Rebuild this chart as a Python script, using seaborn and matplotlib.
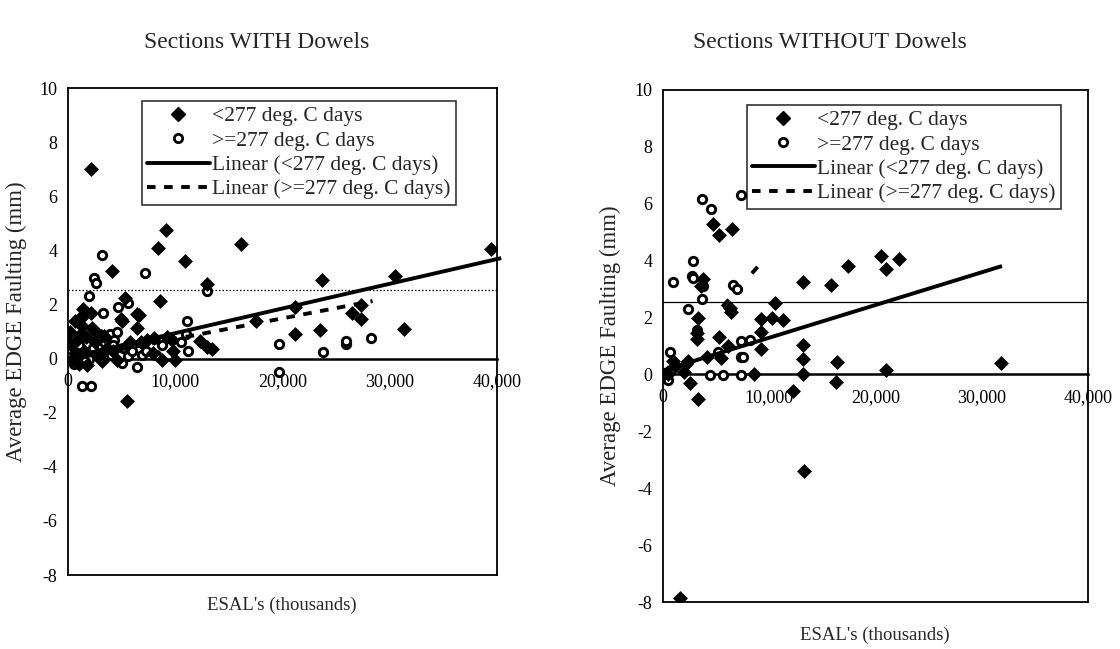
import numpy as np
import pandas as pd
import seaborn as sns
import matplotlib.pyplot as plt
from matplotlib.lines import Line2D
from matplotlib.ticker import FuncFormatter

# ---- data (ESALs, faulting in mm) ----
# Sections WITH dowels, < 277 deg. C days
with_cold_x = [2100, 9100, 8400, 16100, 10900, 4100, 39400, 23700, 30500, 13000,
               8600, 5300, 6600, 21200, 27300, 27300, 26500, 31300, 23500, 21200,
               13400, 13000, 17500, 6400, 5000, 5500, 10000, 8800, 4900, 6400,
               650, 1100, 1600, 2100, 2200, 1700, 300, 700, 1200, 1500,
               2500, 2800, 400, 1000, 1800, 3200, 3600, 4200, 4600, 5800,
               6800, 7400, 8000, 9200, 9700, 7900, 200, 1300, 2600, 12300,
               9800, 3400, 1400, 800]
with_cold_y = [7.0, 4.75, 4.1, 4.25, 3.6, 3.25, 4.05, 2.9, 3.05, 2.75,
               2.15, 2.25, 1.6, 1.9, 2.0, 1.45, 1.7, 1.1, 1.05, 0.9,
               0.35, 0.45, 1.4, 1.15, 1.4, -1.55, -0.05, -0.05, 1.45, 1.65,
               1.4, 1.5, 1.65, 1.7, 1.15, 0.8, 0.5, 0.2, 0.9, 0.3,
               0.6, 0.1, -0.1, -0.2, -0.25, -0.1, 0.4, 0.3, -0.05, 0.6,
               0.6, 0.7, 0.75, 0.8, 0.7, 0.2, 1.0, 1.2, 1.0, 0.65,
               0.3, 0.85, 1.85, 0.7]
# Sections WITH dowels, >= 277 deg. C days
with_warm_x = [3200, 7200, 2400, 2600, 2000, 13000, 3300, 4700, 5600, 11100,
               11200, 19700, 19700, 23800, 25900, 25900, 28300, 1300, 2100, 6900,
               6400, 500, 1000, 1500, 2300, 2900, 3400, 3900, 4300, 4600,
               3100, 4000, 5100, 5600, 6000, 7300, 8200, 2000, 600, 1600,
               5000, 4200, 2700, 8800, 11000, 10500]
with_warm_y = [3.85, 3.15, 3.0, 2.8, 2.3, 2.5, 1.7, 1.9, 2.05, 1.4,
               0.3, 0.55, -0.5, 0.25, 0.55, 0.65, 0.75, -1.0, -1.0, 0.15,
               -0.3, 0.8, 0.5, 0.1, 0.4, 0.9, 0.6, 0.9, 0.7, 1.0,
               0.2, 0.15, 0.4, 0.1, 0.3, 0.3, 0.15, 0.0, -0.2, -0.1,
               -0.15, 0.5, 0.7, 0.5, 0.9, 0.6]

# Sections WITHOUT dowels, < 277 deg. C days
without_cold_x = [4700, 5300, 6500, 17400, 15800, 13200, 20500, 21000, 22200, 3800,
                  3600, 6300, 6400, 10500, 10300, 11300, 9200, 9200, 9200, 3300,
                  3200, 5300, 6100, 4100, 13200, 13200, 13200, 16400, 16300, 21000,
                  31800, 12200, 3300, 2500, 1100, 2200, 8600, 1600, 13300, 2000,
                  500, 3160, 5500, 970, 2370]
without_cold_y = [5.3, 4.9, 5.1, 3.8, 3.15, 3.25, 4.15, 3.7, 4.05, 3.35,
                  3.1, 2.35, 2.2, 2.5, 2.0, 1.9, 1.95, 1.5, 0.9, 2.0,
                  1.45, 1.3, 1.0, 0.6, 1.05, 0.55, 0.0, 0.45, -0.25, 0.15,
                  0.4, -0.6, -0.85, -0.3, 0.3, 0.35, 0.0, -7.85, -3.4, 0.1,
                  0.0, 1.25, 0.57, 0.48, 0.48]
# Sections WITHOUT dowels, >= 277 deg. C days
without_warm_x = [3620, 4560, 7370, 2780, 910, 2690, 3780, 6590, 6970, 3620,
                  2370, 3160, 8150, 7370, 7370, 5180, 660, 350, 4400, 5650,
                  7370, 200, 500, 2840, 7530]
without_warm_y = [6.15, 5.8, 6.3, 4.0, 3.25, 3.45, 3.1, 3.15, 3.0, 2.65,
                  2.3, 1.55, 1.22, 1.18, 0.63, 0.8, 0.8, -0.17, -0.03, -0.03,
                  -0.03, 0.0, -0.2, 3.4, 0.63]

# linear trend lines: (x start, x end, y start, y end)
with_cold_trend = [0, 40400, 0.03, 3.72]
with_warm_trend = [0, 28400, -0.03, 2.13]
without_cold_trend = [0, 31900, 0.14, 3.81]
without_warm_trend = [0, 8900, 0.02, 3.78]

limit_mm = 2.54
titles = ['Sections WITH Dowels', 'Sections WITHOUT Dowels']
labels = ['<277 deg. C days', '>=277 deg. C days',
          'Linear (<277 deg. C days)', 'Linear (>=277 deg. C days)']
x_ticks = [0, 10000, 20000, 30000, 40000]
y_ticks = list(range(-8, 11, 2))

sns.set_theme(style='white')
plt.rcParams['font.family'] = ['Liberation Serif', 'DejaVu Serif']
plt.rcParams['axes.unicode_minus'] = False

fig = plt.figure(figsize=(11.2, 6.49), dpi=100)
ax1 = fig.add_axes([0.0607, 0.114, 0.383, 0.750])
ax2 = fig.add_axes([0.592, 0.0724, 0.3795, 0.789])


def panel(ax, cold_x, cold_y, warm_x, warm_y, cold_tr, warm_tr, limit_style, warm_dash):
    cold = pd.DataFrame({'x': cold_x, 'y': cold_y})
    warm = pd.DataFrame({'x': warm_x, 'y': warm_y})
    sns.scatterplot(data=cold, x='x', y='y', ax=ax, marker='D', s=50,
                    color='black', edgecolor='black', linewidth=0.5, zorder=4)
    sns.scatterplot(data=warm, x='x', y='y', ax=ax, marker='o', s=36,
                    facecolor='white', edgecolor='black', linewidth=2.1, zorder=3)
    ax.plot(cold_tr[:2], cold_tr[2:], color='black', lw=2.8, zorder=5,
            solid_capstyle='butt', clip_on=False)
    ax.plot(warm_tr[:2], warm_tr[2:], color='black', lw=2.8, zorder=5,
            dashes=warm_dash)
    ax.axhline(limit_mm, color='black', lw=0.9, **limit_style, zorder=2)

    ax.set_xlim(0, 40000)
    ax.set_ylim(-8, 10)
    ax.set_xticks(x_ticks)
    ax.set_yticks(y_ticks)
    ax.xaxis.set_major_formatter(FuncFormatter(lambda v, p: f'{int(v):,}'))
    ax.spines['bottom'].set_position(('data', 0))
    for s in ax.spines.values():
        s.set_color('black')
        s.set_linewidth(1.3)
    ax.spines['bottom'].set_linewidth(1.8)
    ax.axhline(-8, color='black', lw=1.3, clip_on=False)
    ax.tick_params(axis='both', direction='inout', length=9, width=1.3,
                   colors='black', labelsize=13, pad=3)
    ax.tick_params(axis='x', pad=6)
    ax.set_xlabel('')
    ax.set_ylabel('Average EDGE Faulting (mm)', fontsize=16.5)
    ax.grid(False)

    handles = [Line2D([], [], marker='D', ls='none', color='black', markersize=7.5),
               Line2D([], [], marker='o', ls='none', markerfacecolor='white',
                      markeredgecolor='black', markeredgewidth=2, markersize=6),
               Line2D([], [], color='black', lw=2.8),
               Line2D([], [], color='black', lw=2.8, dashes=(2.2, 2.2))]
    return handles


h1 = panel(ax1, with_cold_x, with_cold_y, with_warm_x, with_warm_y,
           with_cold_trend, with_warm_trend, {'ls': (0, (1.2, 1.6))}, (2.2, 2.2))
h2 = panel(ax2, without_cold_x, without_cold_y, without_warm_x, without_warm_y,
           without_cold_trend, without_warm_trend, {'ls': '-'}, (2.5, 9))

ax1.yaxis.set_label_coords(-0.095, 0.52)
ax2.yaxis.set_label_coords(-0.1, 0.5)

for ax, h, anchor in [(ax1, h1, (0.172, 0.974)), (ax2, h2, (0.197, 0.971))]:
    leg = ax.legend(h, labels, loc='upper left', bbox_to_anchor=anchor,
                    borderaxespad=0, fontsize=15.5, frameon=True, fancybox=False,
                    edgecolor='black', handlelength=2.9, handletextpad=0.1,
                    labelspacing=0.2, borderpad=0.25)
    leg.get_frame().set_linewidth(1.2)
    leg.set_zorder(10)

fig.text(0.229, 0.934, titles[0], ha='center', va='center', fontsize=17)
fig.text(0.741, 0.934, titles[1], ha='center', va='center', fontsize=17)
fig.text(0.252, 0.068, "ESAL's (thousands)", ha='center', va='center', fontsize=13.5)
fig.text(0.781, 0.021, "ESAL's (thousands)", ha='center', va='center', fontsize=13.5)

fig.savefig('out.png', dpi=100)
